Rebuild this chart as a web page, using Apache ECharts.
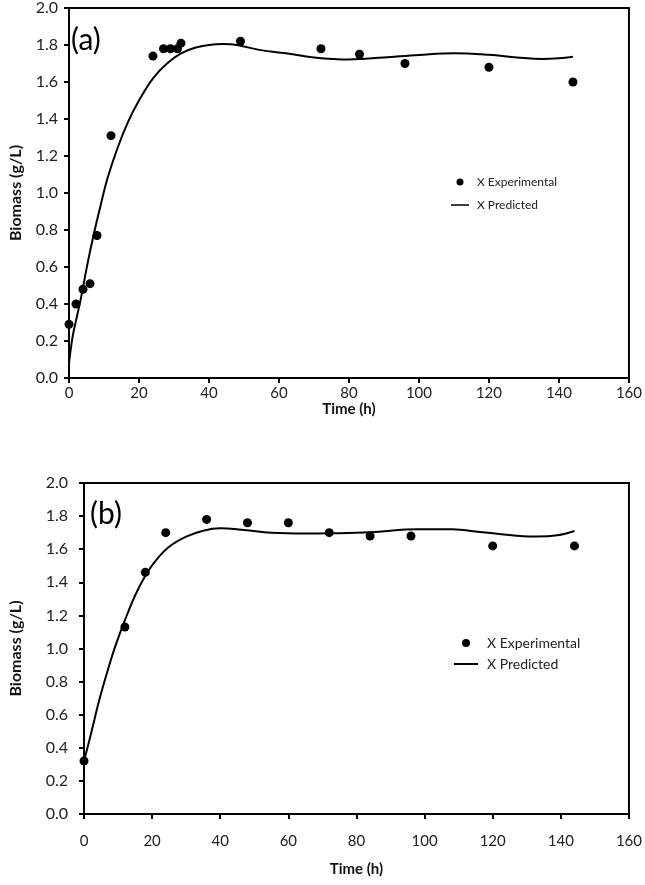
<!DOCTYPE html>
<html>
<head>
<meta charset="utf-8">
<script src="https://cdn.jsdelivr.net/npm/echarts@6/dist/echarts.min.js"></script>
<style>
html,body{margin:0;padding:0;background:#fff;}
#chart{width:645px;height:885px;}
</style>
</head>
<body>
<div id="chart"></div>
<script>
// ---- Data (a) ----
var expTimeA = [0, 2, 4, 6, 8, 12, 24, 27, 29, 31, 32, 49, 72, 83, 96, 120, 144];
var expBiomassA = [0.29, 0.40, 0.48, 0.51, 0.77, 1.31, 1.74, 1.78, 1.78, 1.78, 1.81, 1.82, 1.78, 1.75, 1.70, 1.68, 1.60];
var predTimeA = [0, 1, 2, 3.5, 5, 7, 9, 11, 14, 17, 20, 24, 28, 32, 36, 40, 44, 48, 54, 62, 70, 80, 90, 100, 110, 120, 128, 135, 140, 144];
var predBiomassA = [0.08, 0.22, 0.31, 0.44, 0.59, 0.77, 0.93, 1.08, 1.25, 1.39, 1.50, 1.62, 1.70, 1.755, 1.785, 1.800, 1.805, 1.800, 1.775, 1.755, 1.733, 1.722, 1.733, 1.746, 1.755, 1.747, 1.733, 1.724, 1.728, 1.737];

// ---- Data (b) ----
var expTimeB = [0, 12, 18, 24, 36, 48, 60, 72, 84, 96, 120, 144];
var expBiomassB = [0.32, 1.13, 1.46, 1.70, 1.78, 1.76, 1.76, 1.70, 1.68, 1.68, 1.62, 1.62];
var predTimeB = [0, 2, 4.5, 7, 9.3, 12, 15, 18, 21, 25, 30, 35, 40, 47, 55, 65, 72, 84, 98, 108, 117, 127, 133, 139, 144];
var predBiomassB = [0.32, 0.48, 0.69, 0.87, 1.02, 1.17, 1.32, 1.44, 1.53, 1.615, 1.676, 1.712, 1.726, 1.716, 1.70, 1.695, 1.696, 1.702, 1.72, 1.72, 1.702, 1.682, 1.676, 1.684, 1.71];

// ---- Axis ticks ----
var xTicks = [0, 20, 40, 60, 80, 100, 120, 140, 160];
var yTicks = [0.0, 0.2, 0.4, 0.6, 0.8, 1.0, 1.2, 1.4, 1.6, 1.8, 2.0];
var seriesNames = ['X Experimental', 'X Predicted'];
var panelLabels = ['(a)', '(b)'];
var xTitle = 'Time (h)';
var yTitle = 'Biomass (g/L)';

function zip(a, b) { return a.map(function (v, i) { return [v, b[i]]; }); }

var FONT = 'Lato, "Open Sans", sans-serif';

function xAxisCfg(gridIndex, labelMargin, nameGap) {
  return {
    type: 'value', gridIndex: gridIndex,
    min: xTicks[0], max: xTicks[xTicks.length - 1], interval: xTicks[1] - xTicks[0],
    name: xTitle, nameLocation: 'middle', nameGap: nameGap,
    nameTextStyle: { fontFamily: FONT, fontWeight: 'bold', fontSize: 15, color: '#111' },
    axisLine: { show: true, onZero: false, lineStyle: { color: '#000', width: 2 } },
    axisTick: { show: true, inside: false, length: 5, lineStyle: { color: '#000', width: 2 } },
    axisLabel: { fontFamily: FONT, fontSize: 15, color: '#222', margin: labelMargin },
    splitLine: { show: false }
  };
}
function yAxisCfg(gridIndex, labelMargin, nameGap) {
  return {
    type: 'value', gridIndex: gridIndex,
    min: yTicks[0], max: yTicks[yTicks.length - 1], interval: 0.2,
    name: yTitle, nameLocation: 'middle', nameGap: nameGap, nameRotate: 90,
    nameTextStyle: { fontFamily: FONT, fontWeight: 'bold', fontSize: 16, color: '#111' },
    axisLine: { show: true, lineStyle: { color: '#000', width: 2 } },
    axisTick: { show: true, inside: false, length: 5, lineStyle: { color: '#000', width: 2 } },
    axisLabel: { fontFamily: FONT, fontSize: 16, color: '#222', margin: labelMargin,
      formatter: function (v) { return v.toFixed(1); } },
    splitLine: { show: false }
  };
}

var dotIcon = 'circle';
var lineIcon = 'path://M0,0H24V2H0Z';

var option = {
  backgroundColor: '#fff',
  animation: false,
  title: [
    { text: panelLabels[0], left: 71, top: 25, padding: 0,
      textStyle: { fontFamily: FONT, fontSize: 30, fontWeight: 'normal', color: '#000' } },
    { text: panelLabels[1], left: 90, top: 499, padding: 0,
      textStyle: { fontFamily: FONT, fontSize: 30, fontWeight: 'normal', color: '#000' } }
  ],
  grid: [
    { left: 63, top: 8, width: 568, height: 370, show: true, borderColor: '#000', borderWidth: 2, backgroundColor: 'transparent' },
    { left: 78, top: 483, width: 553, height: 331, show: true, borderColor: '#000', borderWidth: 2, backgroundColor: 'transparent' }
  ],
  legend: [
    { orient: 'vertical', left: 446, top: 170, itemWidth: 18, itemHeight: 7, itemGap: 9,
      textStyle: { fontFamily: FONT, fontSize: 12, color: '#222', lineHeight: 14, padding: [0, 0, 0, 3] },
      data: [{ name: seriesNames[0], icon: dotIcon }, { name: seriesNames[1], icon: lineIcon }] },
    { orient: 'vertical', left: 449, top: 630, itemWidth: 24, itemHeight: 8, itemGap: 5,
      textStyle: { fontFamily: FONT, fontSize: 14, color: '#222', lineHeight: 16, padding: [0, 0, 0, 4] },
      data: [{ name: seriesNames[0], icon: dotIcon }, { name: seriesNames[1], icon: lineIcon }] }
  ],
  xAxis: [xAxisCfg(0, 8, 22), xAxisCfg(1, 20, 48)],
  yAxis: [yAxisCfg(0, 11, 45), yAxisCfg(1, 16, 60)],
  series: [
    { name: seriesNames[1], type: 'line', xAxisIndex: 0, yAxisIndex: 0, data: zip(predTimeA, predBiomassA),
      smooth: 0.4, symbol: 'none', showSymbol: false, lineStyle: { color: '#000', width: 2 }, itemStyle: { color: '#000' }, z: 2 },
    { name: seriesNames[0], type: 'scatter', xAxisIndex: 0, yAxisIndex: 0, data: zip(expTimeA, expBiomassA),
      symbol: 'circle', symbolSize: 9, itemStyle: { color: '#000', opacity: 1 }, z: 3 },
    { name: seriesNames[1], type: 'line', xAxisIndex: 1, yAxisIndex: 1, data: zip(predTimeB, predBiomassB),
      smooth: 0.4, symbol: 'none', showSymbol: false, lineStyle: { color: '#000', width: 2 }, itemStyle: { color: '#000' }, z: 2 },
    { name: seriesNames[0], type: 'scatter', xAxisIndex: 1, yAxisIndex: 1, data: zip(expTimeB, expBiomassB),
      symbol: 'circle', symbolSize: 9, itemStyle: { color: '#000', opacity: 1 }, z: 3 }
  ]
};

var chart = echarts.init(document.getElementById('chart'), null, { renderer: 'canvas' });
chart.setOption(option);
</script>
</body>
</html>
